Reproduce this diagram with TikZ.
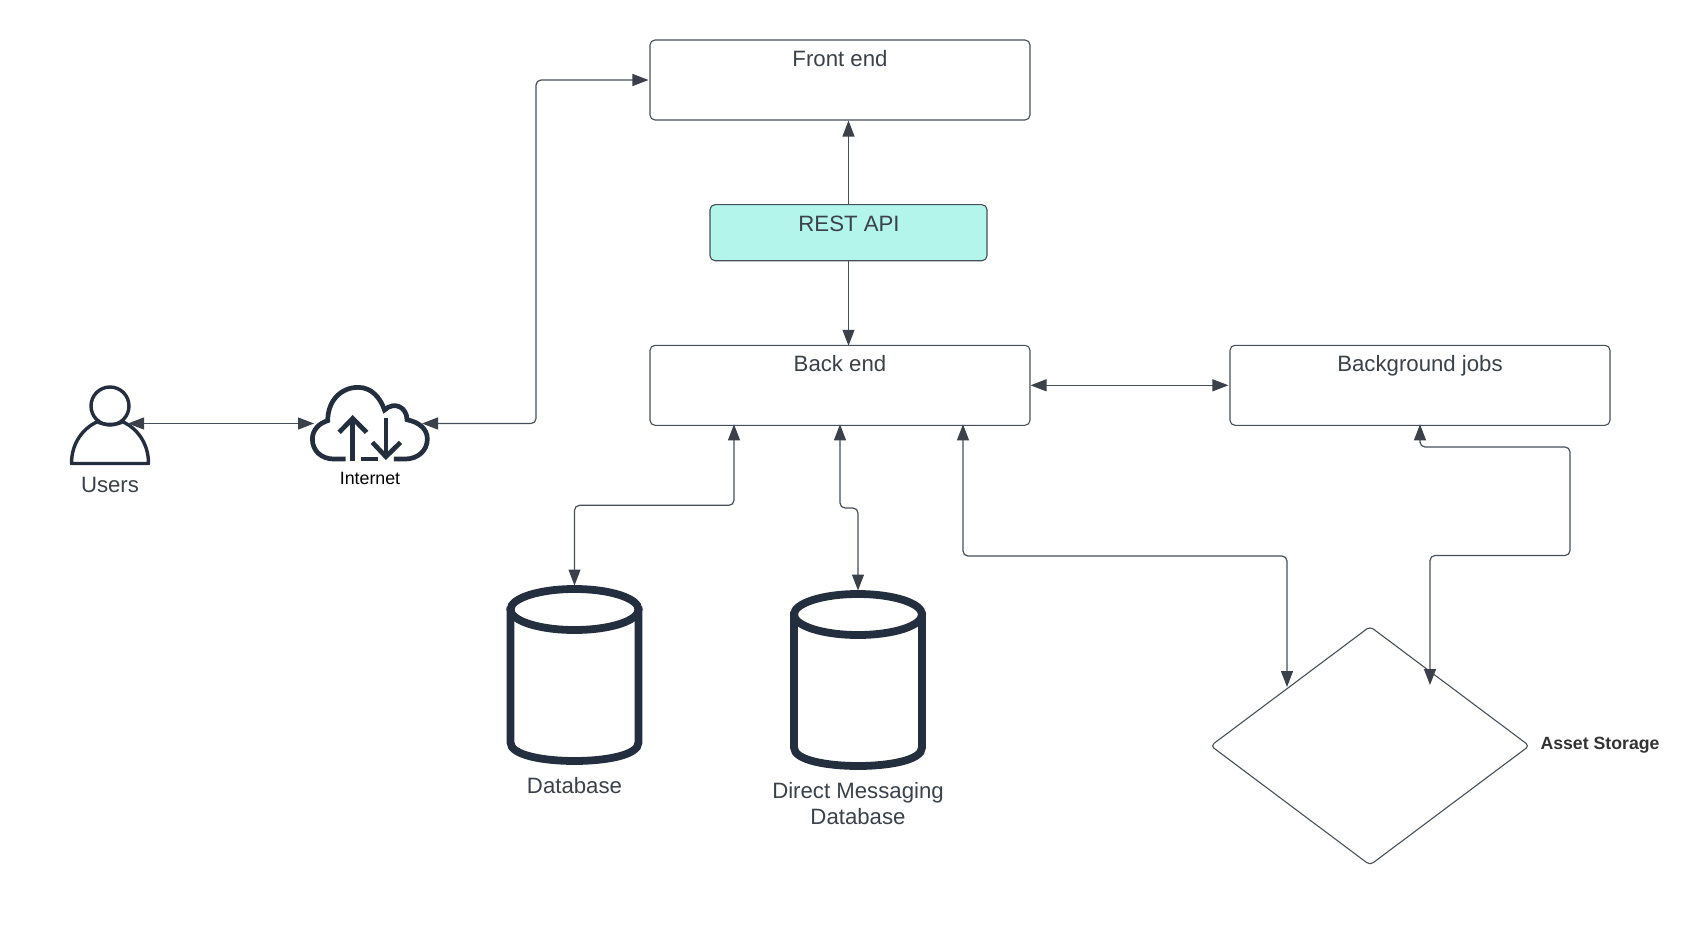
\documentclass[tikz,border=0pt]{standalone}
\usepackage{fontspec}
\setmainfont{Liberation Sans}
\usetikzlibrary{arrows.meta,shapes.geometric,calc}
\definecolor{linec}{HTML}{474F5A}
\definecolor{tipc}{HTML}{3A414A}
\definecolor{textc}{HTML}{3A414A}
\definecolor{iconc}{HTML}{232F3E}
\definecolor{apifill}{HTML}{B4F5EB}
\tikzset{
  boxn/.style={draw=linec,line width=1.1pt,rounded corners=5pt,fill=white,inner sep=0pt,minimum width=380pt,minimum height=80pt},
  apin/.style={boxn,fill=apifill,minimum width=277pt,minimum height=56pt},
  txt/.style={text=textc,font=\fontsize{22.2}{26.5}\selectfont,inner sep=0pt,align=center},
  anchorn/.style={inner sep=0pt,outer sep=0pt},
  conn/.style={draw=linec,line width=1.2pt,rounded corners=5pt,-{Triangle[length=16pt,width=12pt,color=tipc]}},
  connb/.style={draw=linec,line width=1.2pt,rounded corners=5pt,{Triangle[length=16pt,width=12pt,color=tipc]}-{Triangle[length=16pt,width=12pt,color=tipc]}},
}
\begin{document}
\begin{tikzpicture}[x=1pt,y=-1pt]
\useasboundingbox (0,0) rectangle (1700,944);
% boxes
\node[boxn] (fe) at (840,80) {};
\node[apin] (api) at (848.5,232.7) {};
\node[boxn] (be) at (840,385.3) {};
\node[boxn] (bg) at (1420,385.3) {};
\node[diamond,draw=linec,line width=1.1pt,rounded corners=4pt,inner sep=0pt,minimum width=319pt,minimum height=239pt,aspect=1.335] (asset) at (1370,745.8) {};
% labels
\node[txt] (felabel) at (840,59) {Front end};
\node[txt] (apilabel) at (849,224) {REST API};
\node[txt] (belabel) at (840,364) {Back end};
\node[txt] (bglabel) at (1420,366) {Background jobs};
\node[txt,font=\fontsize{17.7}{21}\selectfont\bfseries,text=black!80] (assetlabel) at (1600,745) {Asset Storage};
\node[txt] (userslabel) at (110,484.5) {Users};
\node[txt,text=black,font=\fontsize{17.8}{21}\selectfont] (cloudlabel) at (370,478.5) {Internet};
\node[txt] (db1label) at (574.5,786) {Database};
\node[txt] (db2label) at (858,803.5) {Direct Messaging\\Database};
% person
\node[anchorn,minimum width=36pt,minimum height=2pt] (users) at (110,423.5) {};
\draw[iconc,line width=3.4pt] (110,406) circle[radius=19pt];
\draw[iconc,line width=3.4pt,line join=round] (71.5,463.5) -- (148.5,463.5) .. controls (148.5,442) and (136,428) .. (123,421.8) .. controls (116,425.3) and (104,425.3) .. (97,421.8) .. controls (84,428) and (71.5,442) .. (71.5,463.5) -- cycle;
% cloud
\node[anchorn,minimum width=108pt,minimum height=2pt] (cloud) at (368,423.5) {};
\begin{scope}[shift={(0pt,-350.7pt)},x=0.357pt,y=-0.3333pt,iconc,line width=4.7pt]
\draw (968,325) -- (935,325) .. controls (900,325) and (875,300) .. (875,265) .. controls (875,237) and (895,217) .. (918,210) .. controls (918,150) and (955,110) .. (1003,110) .. controls (1040,110) and (1065,140) .. (1077,178) .. controls (1105,150) and (1140,170) .. (1140,207) .. controls (1175,215) and (1197,235) .. (1197,265) .. controls (1197,300) and (1170,325) .. (1135,325) -- (1103,325);
\draw (1010,325) -- (1060,325);
\draw (988,332) -- (988,205);
\draw (950,245) -- (988,203) -- (1027,245);
\draw (1081,203) -- (1081,318);
\draw (1043,275) -- (1081,318) -- (1122,275);
\end{scope}
% cylinders
\node[anchorn,minimum width=135pt,minimum height=2pt] (db1) at (574.5,586.5) {};
\node[anchorn,minimum width=135pt,minimum height=2pt] (db2) at (858,591.5) {};
\foreach \cx/\cy in {574.5/609.5,858/614.5}{
  \draw[iconc,line width=7.8pt] (\cx-64,\cy-3) -- (\cx-64,\cy+133) .. controls (\cx-64,\cy+146) and (\cx-30,\cy+151.5) .. (\cx,\cy+151.5) .. controls (\cx+30,\cy+151.5) and (\cx+64,\cy+146) .. (\cx+64,\cy+133) -- (\cx+64,\cy-3);
  \draw[iconc,line width=7.8pt] (\cx,\cy) ellipse[x radius=64pt,y radius=20.5pt];
}
% connector helpers
\coordinate (jfe) at (536,423.5);
\coordinate (d1) at (734,505.3);
\coordinate (d2) at (840,508);
\coordinate (d2b) at (858,508);
\coordinate (d3) at (963,556);
\coordinate (dl) at (1287,687);
\coordinate (dr) at (1430,685);
\coordinate (r1) at (1570,555.5);
\coordinate (r2) at (1570,447);
\coordinate (r3) at (1420,447);
% connectors
\draw[connb] (users.east) -- (cloud.west);
\draw[connb] (cloud.east) -- (jfe) -- (jfe |- fe.west) -- ([xshift=-1pt]fe.west);
\draw[conn] (api.north) -- (fe.south -| api.north);
\draw[conn] (api.south) -- ([yshift=-1pt]be.north -| api.south);
\draw[connb] (be.east) -- ([xshift=-1pt]bg.west);
\draw[connb] ([yshift=1.5pt]be.south -| d1) -- (d1) -- (d1 -| db1.north) -- (db1.north);
\draw[connb] ([yshift=1.5pt]be.south -| d2) -- (d2) -- (d2b) -- (db2.north);
\draw[connb] ([yshift=1.5pt]be.south -| d3) -- (d3) -- (d3 -| dl) -- (dl);
\draw[connb] ([yshift=1.5pt]bg.south -| r3) -- (r3) -- (r2) -- (r1) -- (r1 -| dr) -- (dr);
\end{tikzpicture}
\end{document}
